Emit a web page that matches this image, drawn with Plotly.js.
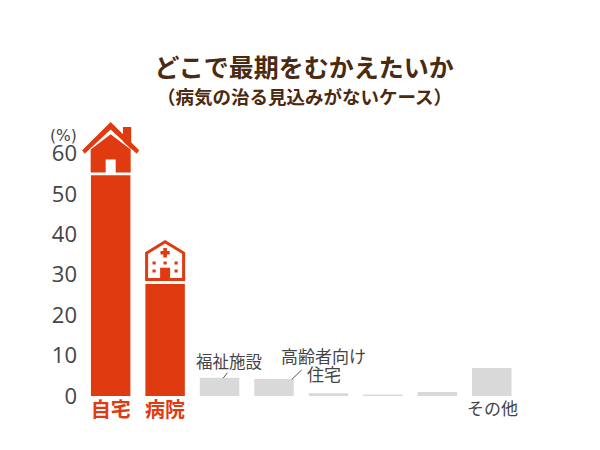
<!DOCTYPE html>
<html><head><meta charset="utf-8">
<script src="https://cdn.plot.ly/plotly-3.0.1.min.js"></script>
<style>html,body{margin:0;padding:0;background:#fff}</style></head>
<body><div id="chart" style="width:600px;height:450px"></div>
<script>
const categories = ['自宅','病院','福祉施設','高齢者向け住宅','不明A','不明B','不明C','その他'];
const values = [54.6,27.7,4.5,4.2,0.7,0.4,1.0,6.9];
const tickLabels = ['<b>自宅</b>','<b>病院</b>','','','','','',''];
const yTicks = [0,10,20,30,40,50,60];
const RED = '#e03a10', GREY = '#d9d9d9', TXT = '#444444', BROWN = '#4a2a10';
const FONT = '"Noto Sans CJK JP","Noto Sans",sans-serif';

function icon(cat, val, path, fill, line, lw){
  const s = {type:'path', xref:'x', yref:'y', xsizemode:'pixel', ysizemode:'pixel',
    xanchor:cat, yanchor:val, path:path, layer:'above',
    line:{color:line||fill, width:lw||0}};
  if(fill) s.fillcolor = fill;
  return s;
}
function dot(x,y){ return `M${x-1.6},${y-1.6} L${x+1.6},${y-1.6} L${x+1.6},${y+1.6} L${x-1.6},${y+1.6} Z `; }
const shapes = [
  icon(0,values[0],'M-28.5,25 L0,53.3 L28.5,25 L26,21.4 L0,45.7 L-26,21.4 Z',RED),
  icon(0,values[0],'M12.3,34 L12.3,48.3 L20.5,48.3 L20.5,26 Z',RED),
  icon(0,values[0],'M-20,25.7 L0,41 L20,25.7 L20,2.7 L5,2.7 L5,15.7 L-5,15.7 L-5,2.7 L-20,2.7 Z',RED),
  icon(1,values[1],'M-18.5,4.5 L-18.5,31 L0,42.3 L18.5,31 L18.5,4.5 Z','#ffffff',RED,3),
  icon(1,values[1],'M-1.8,36 L1.8,36 L1.8,33 L4.6,33 L4.6,29.4 L1.8,29.4 L1.8,26.6 L-1.8,26.6 L-1.8,29.4 L-4.6,29.4 L-4.6,33 L-1.8,33 Z',RED),
  icon(1,values[1],'M-5,4 L-5,16.3 L5,16.3 L5,4 Z',RED),
  icon(1,values[1],dot(-11,21)+dot(0,21)+dot(11,21)+dot(-11,13)+dot(11,13),RED),
  icon(2,values[2],'M3.5,-0.5 L7.8,5',null,'#555555',1),
  icon(3,values[3],'M17.7,-0.5 L27.7,9',null,'#555555',1)
];

const annotations = [
  {xref:'x',yref:'y',x:2,y:values[2],yshift:17,xshift:9,yanchor:'middle',text:'福祉施設',font:{size:16.5,color:TXT,family:FONT},showarrow:false},
  {xref:'x',yref:'y',x:3,y:values[3],xshift:49,yshift:23.5,yanchor:'middle',text:'高齢者向け',font:{size:17,color:TXT,family:FONT},showarrow:false},
  {xref:'x',yref:'y',x:3,y:values[3],xshift:50,yshift:5.5,yanchor:'middle',text:'住宅',font:{size:17,color:TXT,family:FONT},showarrow:false},
  {xref:'x',yref:'y',x:7,y:0,yshift:-11,xshift:1,yanchor:'middle',text:'その他',font:{size:17,color:TXT,family:FONT},showarrow:false},
  {xref:'paper',yref:'y',x:-0.034,y:64.3,xanchor:'center',yanchor:'middle',text:'(%)',font:{size:15.5,color:TXT,family:'"DejaVu Sans",sans-serif'},showarrow:false},
  {xref:'paper',yref:'paper',x:0.5,xshift:6,y:1.0617,yanchor:'middle',text:'<b>（病気の治る見込みがないケース）</b>',font:{size:18.5,color:BROWN,family:FONT},showarrow:false}
];

Plotly.newPlot('chart',[{
  type:'bar', x:categories, y:values,
  marker:{color:[RED,RED,GREY,GREY,GREY,GREY,GREY,GREY]},
  hoverinfo:'skip'
}],{
  width:600,height:450,
  margin:{l:77.8,r:80.75,t:112.5,b:54,pad:0},
  paper_bgcolor:'#fff',plot_bgcolor:'#fff',
  bargap:0.275, showlegend:false,
  title:{text:'<b>どこで最期をむかえたいか</b>',font:{size:25,color:BROWN,family:FONT},x:0.507,xanchor:'center',y:0.848,yanchor:'middle'},
  xaxis:{type:'category',range:[-0.6,7.5],tickmode:'array',tickvals:categories,ticktext:tickLabels,
    showgrid:false,showline:false,zeroline:false,ticks:'',ticklen:0,tickangle:0,
    tickfont:{size:20,color:RED,family:FONT},automargin:false},
  yaxis:{range:[0,70],tickmode:'array',tickvals:yTicks,ticktext:yTicks.map(String),
    showgrid:false,showline:false,zeroline:false,ticks:'',
    tickfont:{size:22,color:TXT,family:'"Open Sans",sans-serif'},automargin:false},
  shapes:shapes, annotations:annotations
},{displayModeBar:false,staticPlot:true});
</script></body></html>
